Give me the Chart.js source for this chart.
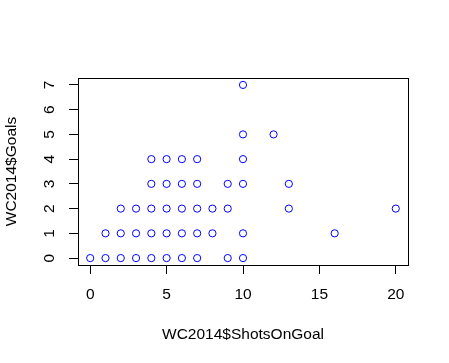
<!DOCTYPE html>
<html>
<head>
<meta charset="utf-8">
<script src="https://cdn.jsdelivr.net/npm/chart.js@4"></script>
<style>
  html, body { margin: 0; padding: 0; background: #fff; }
  #wrap { width: 449px; height: 363px; }
</style>
</head>
<body>
<div id="wrap"><canvas id="plot" width="449" height="363"></canvas></div>
<script>
// WC2014 shots on goal vs goals, one entry per team
const shotsOnGoal = [0, 1, 2, 3, 4, 5, 6, 7, 9, 10,
                     1, 2, 3, 4, 5, 6, 7, 8, 10, 16,
                     2, 3, 4, 5, 6, 7, 8, 9, 13, 20,
                     4, 5, 6, 7, 9, 10, 13,
                     4, 5, 6, 7, 10,
                     10, 12,
                     10];
const goals = [0, 0, 0, 0, 0, 0, 0, 0, 0, 0,
               1, 1, 1, 1, 1, 1, 1, 1, 1, 1,
               2, 2, 2, 2, 2, 2, 2, 2, 2, 2,
               3, 3, 3, 3, 3, 3, 3,
               4, 4, 4, 4, 4,
               5, 5,
               7];
const xTicks = [0, 5, 10, 15, 20];
const yTicks = [0, 1, 2, 3, 4, 5, 6, 7];

const FONT = '"Liberation Sans", Arial, sans-serif';
const FS = 15.5;

const points = shotsOnGoal.map((x, i) => ({ x: x, y: goals[i] }));

// box around the plot region + rotated y tick labels like R
const rBox = {
    id: 'rBox',
    afterDraw(chart) {
        const ctx = chart.ctx;
        const a = chart.chartArea;
        ctx.save();
        ctx.strokeStyle = '#000';
        ctx.lineWidth = 1;
        ctx.strokeRect(Math.round(a.left) + 0.5, Math.round(a.top) + 0.5,
                       Math.round(a.right - a.left), Math.round(a.bottom - a.top));

        const ys = chart.scales.y;
        ctx.fillStyle = '#000';
        ctx.font = FS + 'px ' + FONT;
        ctx.textAlign = 'center';
        ctx.textBaseline = 'middle';
        ys.ticks.forEach((t, i) => {
            const py = ys.getPixelForTick(i);
            ctx.save();
            ctx.translate(50, py);
            ctx.rotate(-Math.PI / 2);
            ctx.fillText(String(t.value), 0, 0);
            ctx.restore();
        });
        ctx.restore();
    }
};

new Chart(document.getElementById('plot'), {
    type: 'scatter',
    data: {
        datasets: [{
            data: points,
            pointStyle: 'circle',
            pointRadius: 3.6,
            pointBorderWidth: 1,
            pointBorderColor: '#0000ff',
            pointBackgroundColor: 'rgba(0,0,0,0)',
            pointHoverRadius: 3.6
        }]
    },
    options: {
        responsive: false,
        animation: false,
        events: [],
        layout: { padding: { left: 0, top: 78, right: 41, bottom: 0 } },
        plugins: { legend: { display: false }, tooltip: { enabled: false } },
        scales: {
            x: {
                type: 'linear',
                min: -0.8,
                max: 20.8,
                afterBuildTicks: (s) => { s.ticks = xTicks.map(v => ({ value: v })); },
                afterFit: (s) => { s.height = 98; },
                grid: { display: true, drawOnChartArea: false, color: '#000', tickLength: 9, tickColor: '#000' },
                border: { display: true, color: '#000' },
                ticks: { color: '#000', font: { family: FONT, size: FS }, padding: 11, maxRotation: 0 },
                title: { display: true, text: 'WC2014$ShotsOnGoal', color: '#000',
                         font: { family: FONT, size: FS }, padding: 19 }
            },
            y: {
                type: 'linear',
                min: -0.28,
                max: 7.28,
                afterBuildTicks: (s) => { s.ticks = yTicks.map(v => ({ value: v })); },
                afterFit: (s) => { s.width = 78; },
                grid: { display: true, drawOnChartArea: false, color: '#000', tickLength: 9, tickColor: '#000' },
                border: { display: true, color: '#000' },
                ticks: { display: false },
                title: { display: true, text: 'WC2014$Goals', color: '#000',
                         font: { family: FONT, size: FS }, padding: 2 }
            }
        }
    },
    plugins: [rBox]
});
</script>
</body>
</html>
